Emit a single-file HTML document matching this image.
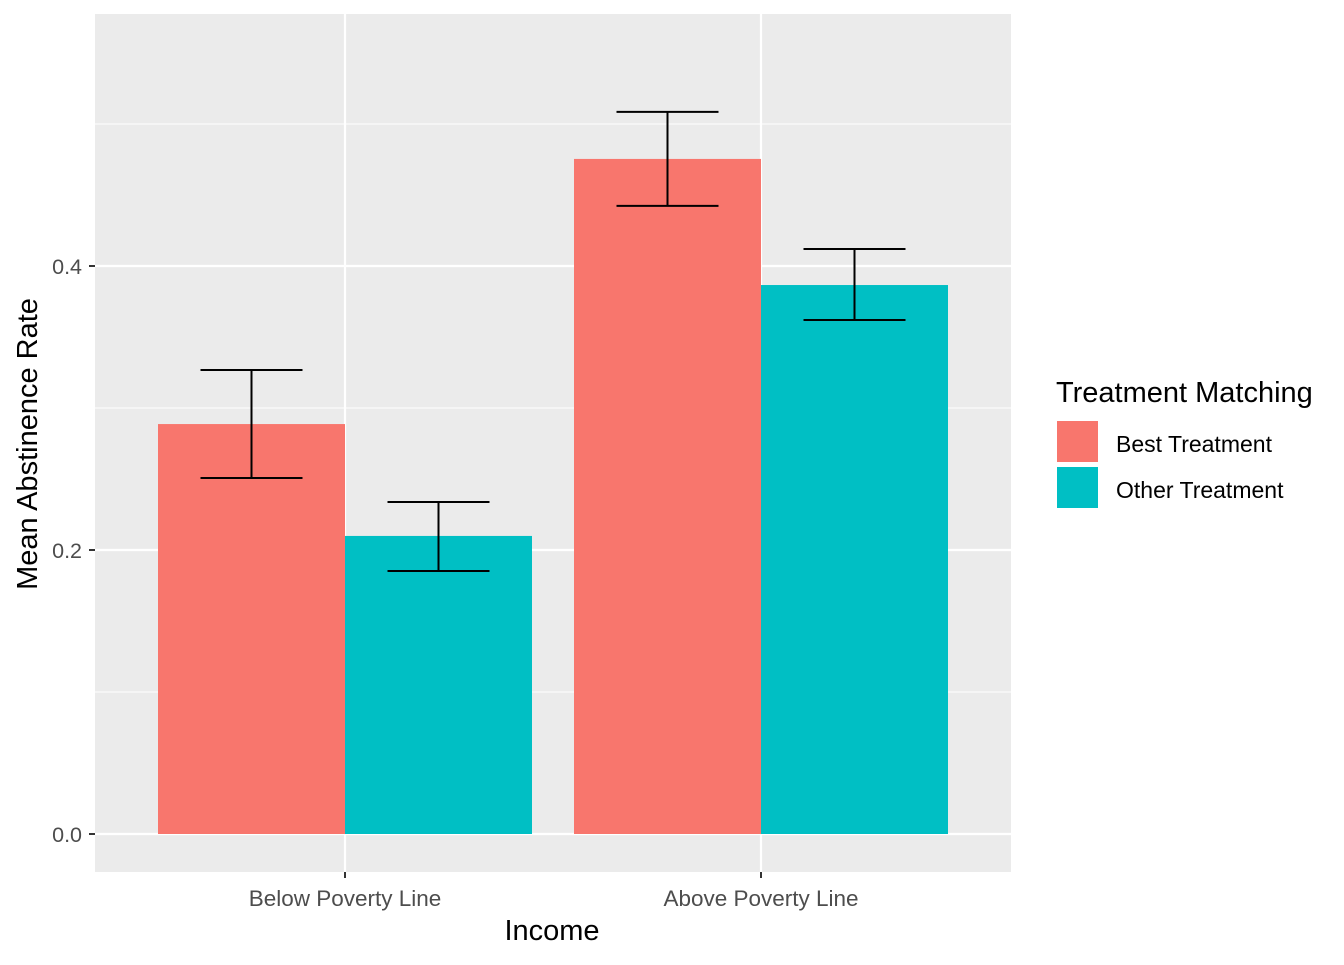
<!DOCTYPE html>
<html><head><meta charset="utf-8"><style>
body{margin:0;background:#fff;}
svg text{font-family:"Liberation Sans",Arial,sans-serif;}
</style></head><body>
<svg id="chart" width="1344" height="960" viewBox="0 0 1344 960">
<rect x="95" y="14" width="916" height="858" fill="#EBEBEB"/>
<g id="grid"></g><g id="bars"></g><g id="errs"></g><g id="axes"></g>
<text x="552" y="940" font-size="29" text-anchor="middle" fill="#000">Income</text>
<text transform="translate(37,444) rotate(-90)" font-size="29" text-anchor="middle" fill="#000">Mean Abstinence Rate</text>
<g>
<text x="1056" y="402" font-size="29" fill="#000">Treatment Matching</text>
<rect x="1056" y="420" width="43" height="43" fill="#F8766D" stroke="#fff" stroke-width="2"/>
<text x="1116" y="452" font-size="23" fill="#000">Best Treatment</text>
<rect x="1056" y="466" width="43" height="43" fill="#00BFC4" stroke="#fff" stroke-width="2"/>
<text x="1116" y="498" font-size="23" fill="#000">Other Treatment</text>
</g>
</svg>
<script>
const categories=["Below Poverty Line","Above Poverty Line"];
const bestValues=[0.2887,0.4754];
const bestLow=[0.2507,0.4423];
const bestHigh=[0.3268,0.5085];
const otherValues=[0.2099,0.3866];
const otherLow=[0.1852,0.362];
const otherHigh=[0.2338,0.412];
const yTicks=[0,0.2,0.4];
const yMinor=[0.1,0.3,0.5];
const NS="http://www.w3.org/2000/svg";
const yScale=v=>834-v*1420;
const xScale=i=>345+i*416;
const bw=187;
function mk(tag,attrs,parent){const e=document.createElementNS(NS,tag);for(const k in attrs)e.setAttribute(k,attrs[k]);document.getElementById(parent).appendChild(e);return e;}
yMinor.forEach(v=>{const l=mk('line',{x1:95,x2:1011,y1:yScale(v),y2:yScale(v),stroke:'#fff','stroke-width':1.1},'grid');

});
yTicks.forEach(v=>{const l=mk('line',{x1:95,x2:1011,y1:yScale(v),y2:yScale(v),stroke:'#fff','stroke-width':2.2},'grid');


const t=mk('line',{x1:89,x2:95,y1:yScale(v),y2:yScale(v),stroke:'#333','stroke-width':2},'axes');


const tx=mk('text',{x:82,y:yScale(v)+8,'font-size':21.5,'text-anchor':'end',fill:'#4D4D4D'},'axes');tx.textContent=v.toFixed(1);

});
categories.forEach((c,i)=>{const x=xScale(i);
const g=mk('line',{x1:x,x2:x,y1:14,y2:872,stroke:'#fff','stroke-width':2.2},'grid');


const t=mk('line',{x1:x,x2:x,y1:872,y2:878,stroke:'#333','stroke-width':2},'axes');


const tx=mk('text',{x:x,y:906,'font-size':22.5,'text-anchor':'middle',fill:'#4D4D4D'},'axes');tx.textContent=c;


[[bestValues,bestLow,bestHigh,'#F8766D',x-bw,'best'],[otherValues,otherLow,otherHigh,'#00BFC4',x,'other']].forEach(([vals,lo,hi,col,bx,nm])=>{
const r=mk('rect',{x:bx,y:yScale(vals[i]),width:bw,height:yScale(0)-yScale(vals[i]),fill:col},'bars');


const cx=bx+bw/2;
const e=mk('path',{d:`M${cx-51},${yScale(hi[i])}H${cx+51}M${cx},${yScale(hi[i])}V${yScale(lo[i])}M${cx-51},${yScale(lo[i])}H${cx+51}`,stroke:'#000','stroke-width':2,fill:'none'},'errs');

});});
</script>
</body></html>
